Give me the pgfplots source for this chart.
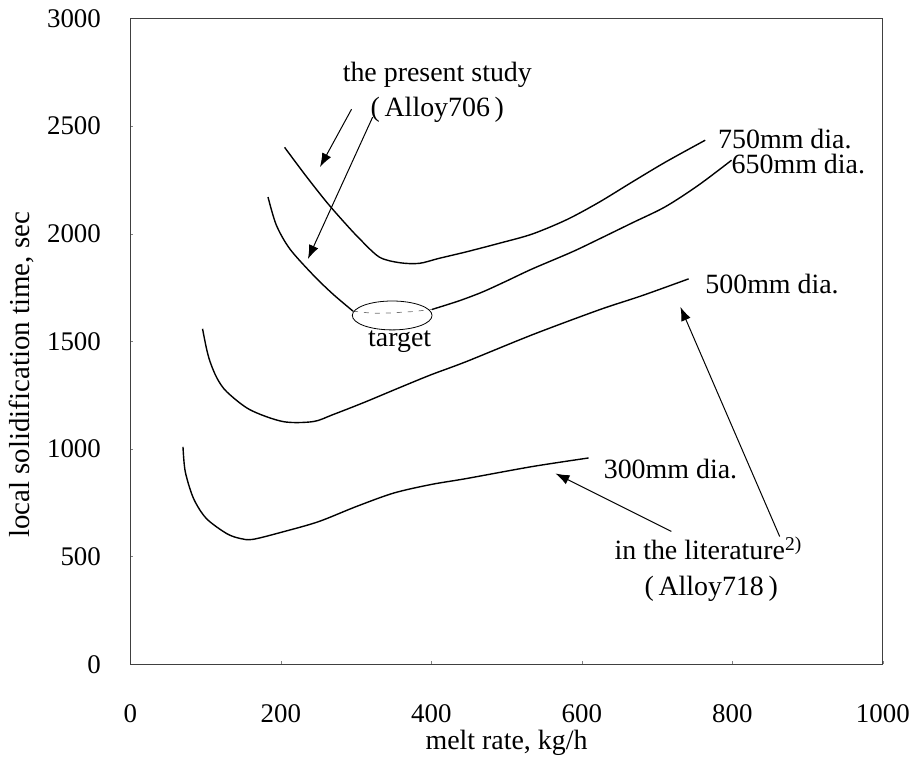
\documentclass[border=0pt]{standalone}
\usepackage{fontspec}
\setmainfont{Liberation Serif}
\usepackage{pgfplots}
\pgfplotsset{compat=1.18}
\usetikzlibrary{arrows.meta}
\begin{document}
\fontsize{28bp}{32bp}\selectfont
\begin{tikzpicture}[curve/.style={black, line width=1.4bp, smooth, mark=none, solid}]
\path (-130bp,-92bp) rectangle (789bp,663bp);
\begin{axis}[
 at={(0,0)}, anchor=south west,
 scale only axis, width=755bp, height=648bp,
 xmin=0, xmax=1000, ymin=0, ymax=3000,
 xtick={0,200,...,1000}, ytick={0,500,...,3000},
 tick align=inside, major tick length=3bp,
 xtick pos=bottom, ytick pos=left,
 axis line style={line width=0.8bp, black!75},
 /pgf/number format/assume math mode=true,
 /pgf/number format/1000 sep={},
 tick label style={font=\fontsize{27bp}{30bp}\selectfont},
 xticklabel style={anchor=base, yshift=-58bp},
 yticklabel style={anchor=east, xshift=-20bp},
 xlabel={melt rate, kg/h},
 ylabel={local solidification time, sec},
 every axis x label/.style={at={(axis description cs:0.5,0)}, anchor=base, yshift=-86bp},
 every axis y label/.style={at={([xshift=-101bp]axis description cs:0,0.448)}, rotate=90, anchor=base, font=\fontsize{29bp}{32bp}\selectfont},
 clip=false,
]
% 750 mm
\addplot[curve] coordinates {(205,2401) (233,2270) (261,2146) (285,2050) (305,1975) (331,1891) (358,1865) (384,1862) (410,1885) (446,1915) (490,1955) (534,1998) (580,2065) (623,2146) (667,2240) (711,2332) (764,2434)};
% 650 mm
\addplot[curve] coordinates {(183,2170) (194,2040) (212,1929) (243,1808) (269,1720) (296,1640)};
\addplot[black!55, line width=0.7bp, mark=none, dash pattern=on 5bp off 6bp] coordinates {(296,1640) (322,1630) (348,1632) (375,1638) (401,1648)};
\addplot[curve] coordinates {(401,1648) (437,1688) (468,1729) (500,1780) (534,1836) (587,1915) (623,1975) (667,2050) (711,2125) (755,2225) (799,2341)};
% 500 mm
\addplot[curve] coordinates {(96,1558) (101,1470) (106,1405) (115,1330) (128,1266) (159,1182) (203,1127) (243,1127) (269,1159) (310,1215) (358,1285) (400,1345) (446,1405) (534,1530) (623,1646) (680,1712) (742,1790)};
% 300 mm
\addplot[curve] coordinates {(70,1010) (73,895) (84,770) (101,677) (128,607) (146,584) (163,580) (203,615) (250,662) (300,732) (350,795) (400,835) (446,862) (534,918) (609,958)};

\draw[line width=0.8bp] (axis cs:348,1620) ellipse [x radius=40bp, y radius=14.5bp];

\draw[-{Latex[length=14bp,width=10bp]}, line width=1bp] (axis cs:294,2578) -- (axis cs:252,2309);
\draw[-{Latex[length=14bp,width=10bp]}, line width=1bp] (axis cs:322,2541) -- (axis cs:236,1882);
\draw[-{Latex[length=14bp,width=10bp]}, line width=1bp] (axis cs:719,617) -- (axis cs:565,886);
\draw[-{Latex[length=14bp,width=10bp]}, line width=1bp] (axis cs:863,593) -- (axis cs:731,1660);

\node at (axis cs:408,2740) {the present study};
\node at (axis cs:408,2573) {(\,Alloy706\,)};
\node[anchor=west, inner sep=0pt] at (axis cs:781,2438) {750mm dia.};
\node[anchor=west, inner sep=0pt] at (axis cs:799,2322) {650mm dia.};
\node[anchor=west, inner sep=0pt] at (axis cs:764,1766) {500mm dia.};
\node[anchor=west, inner sep=0pt] at (axis cs:629,909) {300mm dia.};
\node at (axis cs:358,1497) {target};
\node at (axis cs:768,538) {in the literature\textsuperscript{2)}};
\node at (axis cs:772,352) {(\,Alloy718\,)};
\end{axis}
\end{tikzpicture}
\end{document}
